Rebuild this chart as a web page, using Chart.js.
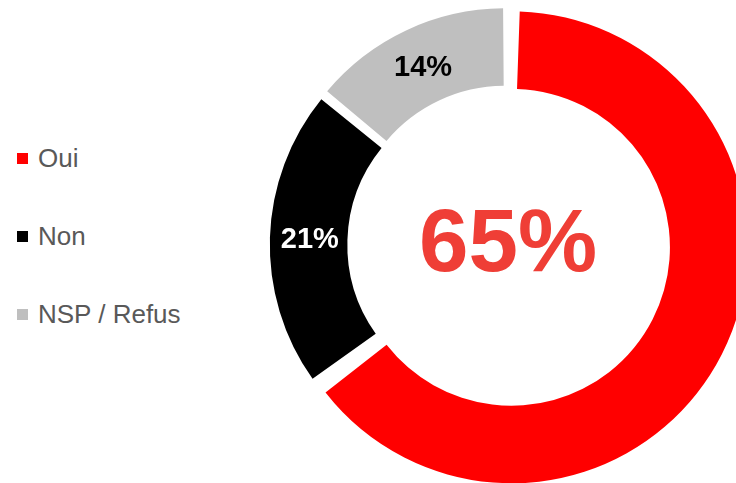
<!DOCTYPE html>
<html lang="fr">
<head>
    <meta charset="UTF-8">
    <title>Oui / Non / NSP</title>
    <style>
        html, body {
            margin: 0;
            padding: 0;
            width: 736px;
            height: 483px;
            overflow: hidden;
            background: #ffffff;
            font-family: 'Liberation Sans', Arial, sans-serif;
        }
        #wrap {
            position: absolute;
            left: 257px;
            top: -5px;
            width: 500px;
            height: 500px;
        }
        #legend .item {
            position: absolute;
            left: 17px;
            height: 30px;
            line-height: 30px;
            font-size: 26px;
            color: #595959;
            white-space: nowrap;
        }
        #legend .box {
            display: inline-block;
            width: 11px;
            height: 11px;
            margin-right: 10px;
            vertical-align: middle;
            position: relative;
            top: -2px;
        }
    </style>
    <script src="https://cdn.jsdelivr.net/npm/chart.js"></script>
</head>
<body>
    <div id="legend"></div>
    <div id="wrap"><canvas id="graph"></canvas></div>
    <script>
        const labels = ['Oui', 'Non', 'NSP / Refus'];
        const values = [65, 21, 14];
        const colors = ['#ff0000', '#000000', '#bfbfbf'];
        const labelColors = ['#ef3e36', '#ffffff', '#000000'];

        // legende en HTML
        const legend = document.getElementById('legend');
        labels.forEach((lab, i) => {
            const div = document.createElement('div');
            div.className = 'item';
            div.style.top = (158 + i * 78 - 15) + 'px';
            div.innerHTML = '<span class="box" style="background:' + colors[i] + '"></span>' + lab;
            legend.appendChild(div);
        });

        // pourcentages sur les parts + le grand chiffre au centre
        const pctLabels = {
            id: 'pctLabels',
            afterDatasetsDraw(chart) {
                const ctx = chart.ctx;
                const arcs = chart.getDatasetMeta(0).data;
                ctx.save();
                ctx.textAlign = 'center';
                ctx.textBaseline = 'middle';
                arcs.forEach((arc, i) => {
                    if (i === 0) {
                        ctx.font = 'bold 89px "Liberation Sans", Arial, sans-serif';
                        ctx.fillStyle = labelColors[i];
                        ctx.fillText(values[i] + '%', arc.x + 1, arc.y + 1);
                    } else {
                        const mid = (arc.startAngle + arc.endAngle) / 2;
                        const r = (arc.innerRadius + arc.outerRadius) / 2 + 8;
                        ctx.font = 'bold 29px "Liberation Sans", Arial, sans-serif';
                        ctx.fillStyle = labelColors[i];
                        ctx.fillText(values[i] + '%', arc.x + Math.cos(mid) * r, arc.y + Math.sin(mid) * r + 1);
                    }
                });
                ctx.restore();
            }
        };

        new Chart(document.getElementById('graph'), {
            type: 'doughnut',
            data: {
                labels: labels,
                datasets: [{
                    data: values,
                    backgroundColor: colors,
                    borderWidth: 0,
                    offset: [20, 24, 20],
                    spacing: 6
                }]
            },
            options: {
                responsive: true,
                maintainAspectRatio: false,
                animation: false,
                radius: 228,
                cutout: '66%',
                layout: { padding: 0 },
                plugins: {
                    legend: { display: false },
                    tooltip: { enabled: false }
                }
            },
            plugins: [pctLabels]
        });
    </script>
</body>
</html>
